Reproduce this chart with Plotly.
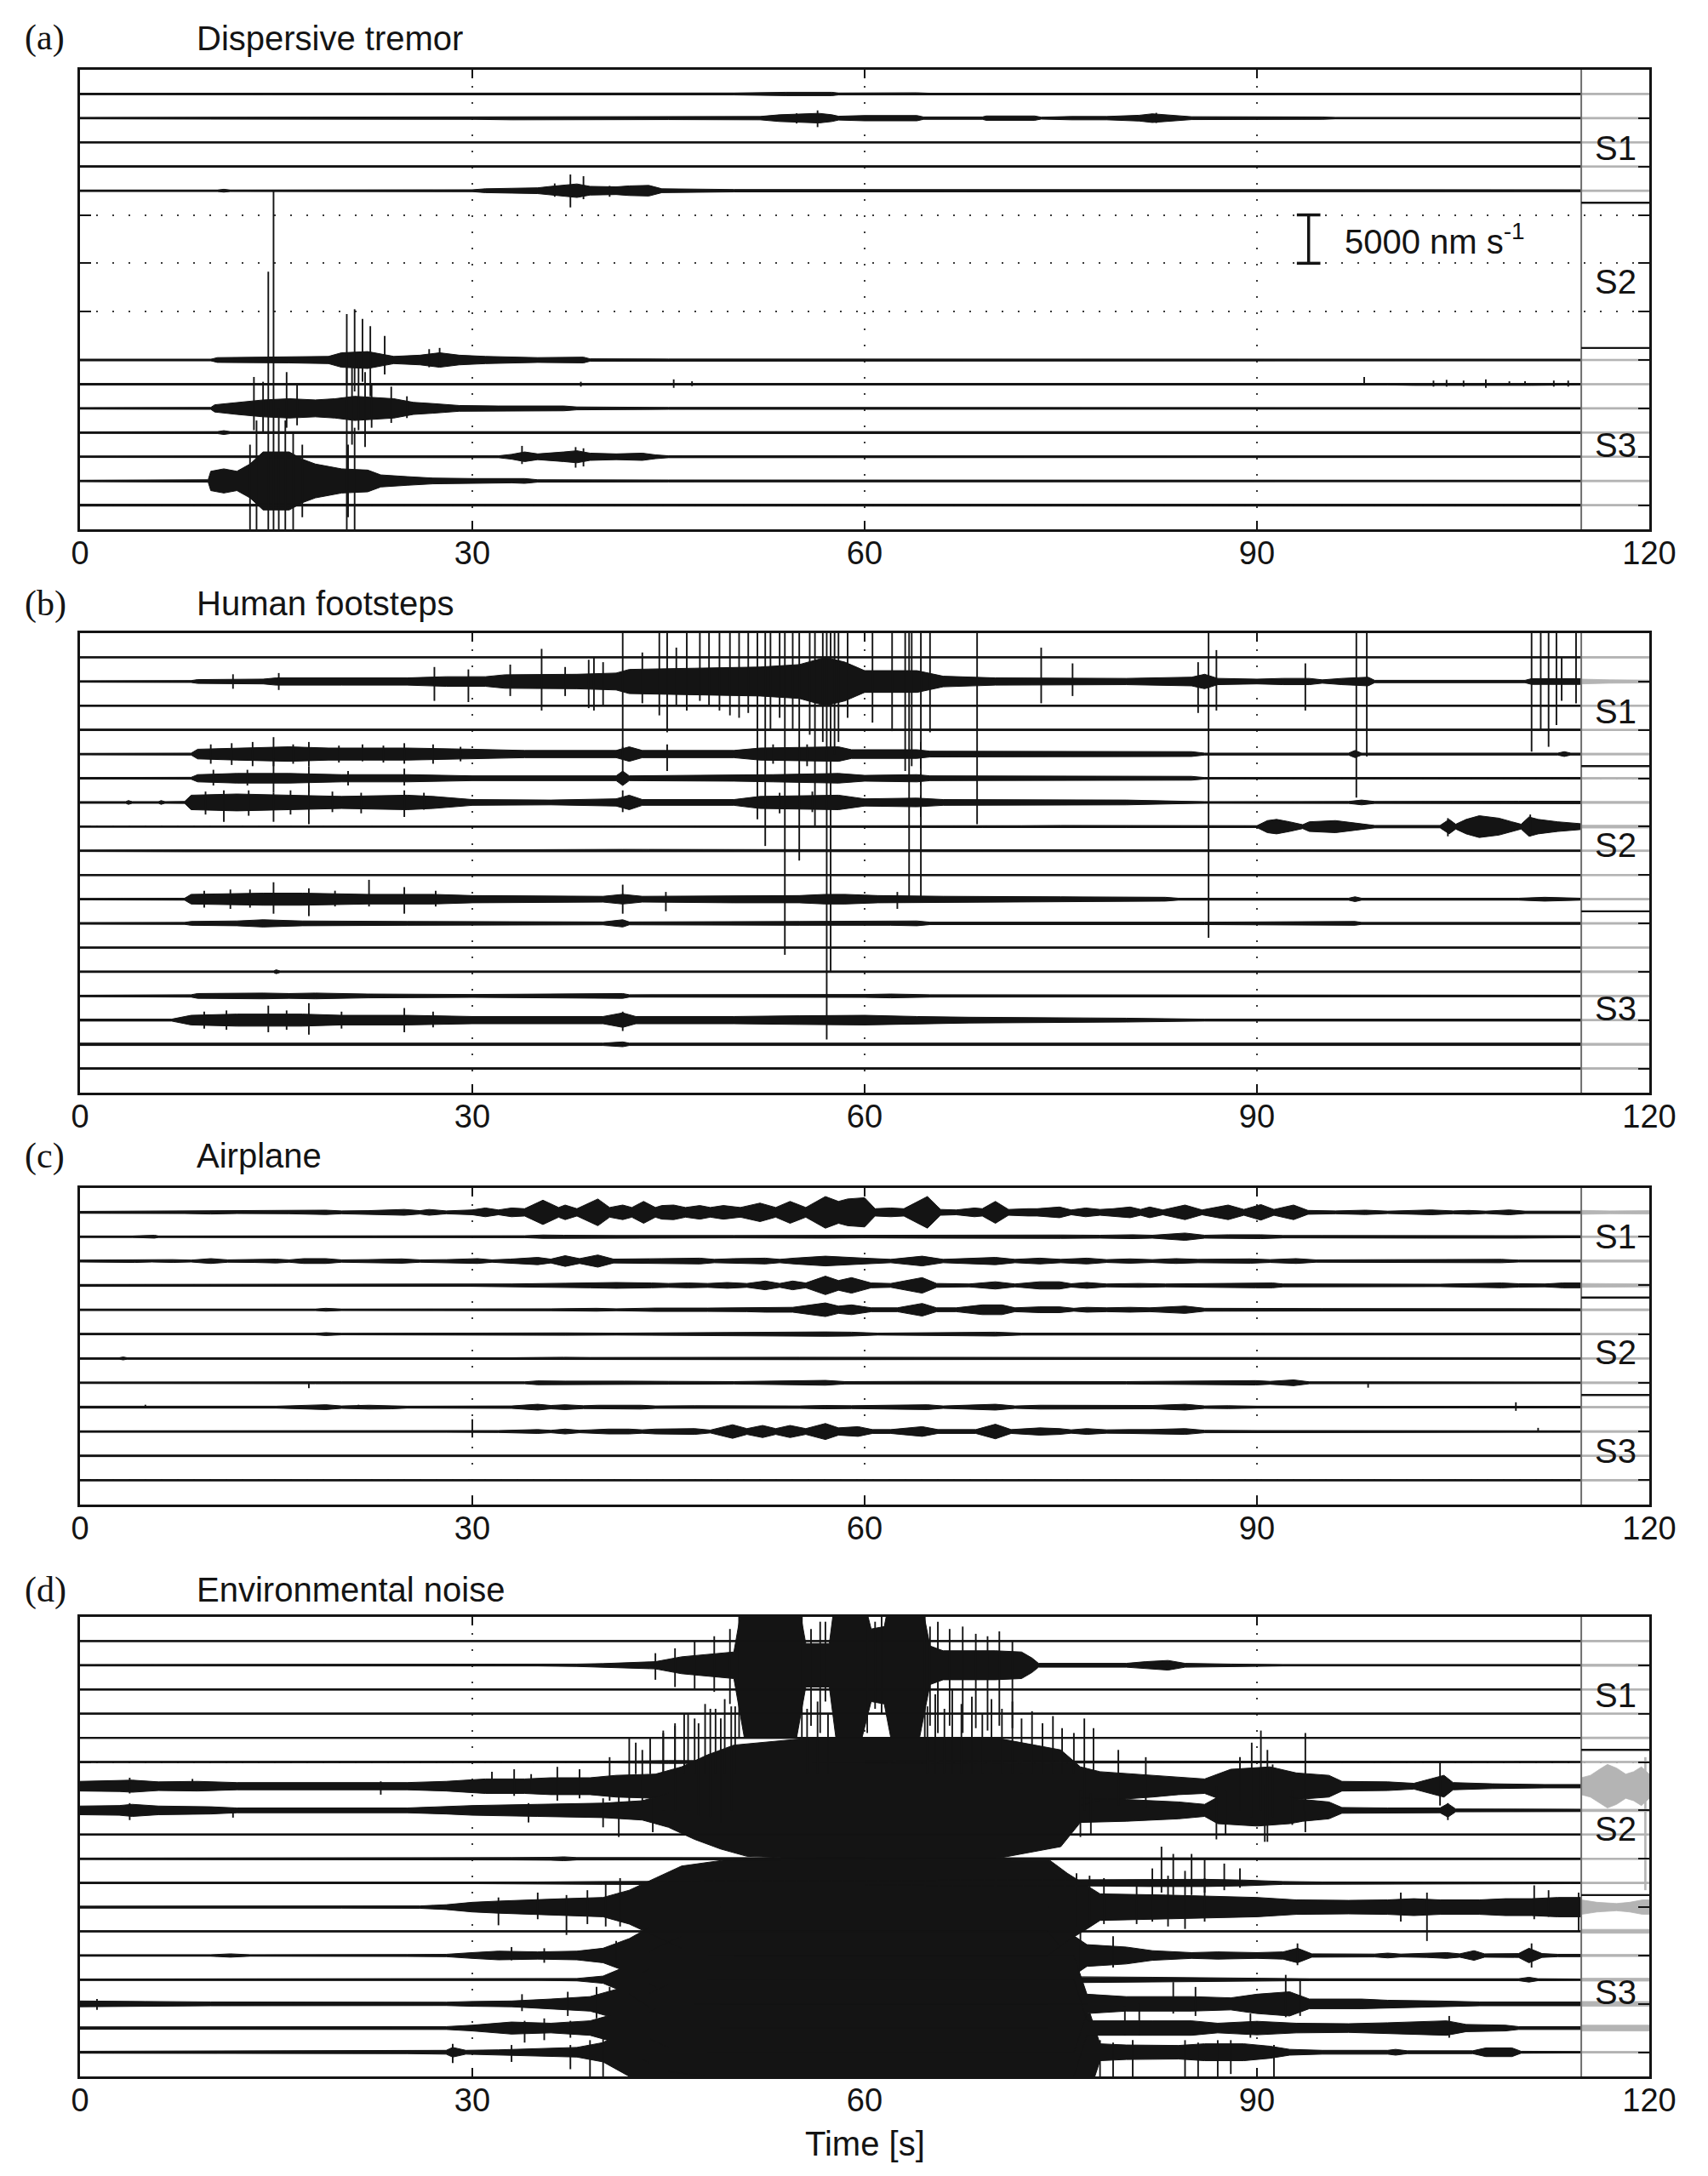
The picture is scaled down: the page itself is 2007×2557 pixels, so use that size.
import plotly.graph_objects as go

# ---------------- data ----------------
TIME_TICKS = [0, 30, 60, 90, 120]
T_END = 114.8          # end of the black traces (grey continuation afterwards)
T_MAX = 120
PANEL_LETTERS = ["(a)", "(b)", "(c)", "(d)"]
PANEL_TITLES = ["Dispersive tremor", "Human footsteps", "Airplane", "Environmental noise"]
N_TRACES = [18, 18, 12, 18]
STATION_BOUNDS = [[5.5, 11.5], [5.5, 11.5], [4.5, 8.5], [5.5, 11.5]]
STATION_LABELS = ["S1", "S2", "S3"]
STATION_LABEL_Y = [[3.25, 8.75, 15.5], [3.25, 8.75, 15.5], [2.0, 6.75, 10.8], [3.25, 8.75, 15.5]]
SCALE_BAR = [6, 8]          # channel slots spanned by the 5000 nm/s bar in (a)
SCALE_BAR_T = 93.95
SCALE_TEXT = "5000 nm s<sup>-1</sup>"

# envelopes: [t, half-amplitude (in channel spacings), ...]
ENV_A = [
    [0,0.03, 10,0.03, 11,0.05, 12,0.03, 50,0.04, 54,0.07, 57.5,0.07, 58,0.04, 60,0.05, 64,0.05, 65,0.03, 114.8,0.03],
    [0,0.03, 10,0.04, 30,0.05, 33,0.07, 45,0.06, 52,0.07, 53.5,0.14, 55,0.16, 56.5,0.2, 57.5,0.14, 58,0.08, 60,0.11, 64,0.11, 64.5,0.05, 69,0.05, 69.3,0.09, 73,0.09, 73.5,0.04, 75.8,0.07, 78.5,0.07, 79,0.08, 81,0.12, 82,0.18, 84,0.1, 85,0.06, 95,0.05, 96,0.03, 114.8,0.03],
    [0,0.02, 114.8,0.02],
    [0,0.03, 114.8,0.03],
    [0,0.03, 10.5,0.03, 11,0.06, 11.5,0.03, 30,0.04, 31,0.08, 33,0.1, 35,0.12, 36,0.18, 37,0.22, 38,0.28, 39,0.18, 41,0.16, 42,0.2, 43.5,0.22, 44.5,0.08, 50,0.05, 114.8,0.04],
    None, None, None, None, None, None,
    [0,0.03, 10,0.03, 10.5,0.1, 13,0.12, 16,0.12, 19,0.15, 20,0.3, 22,0.35, 24,0.15, 26,0.2, 27.5,0.3, 29,0.2, 31,0.15, 35,0.1, 38.5,0.12, 39,0.05, 45,0.04, 114.8,0.03],
    [0,0.03, 100,0.03, 102,0.05, 111,0.05, 114.8,0.03],
    [0,0.03, 10,0.04, 10.3,0.15, 12,0.25, 14,0.35, 16,0.4, 18,0.35, 19.5,0.4, 21,0.5, 24,0.4, 25.5,0.25, 27,0.2, 29,0.12, 32,0.1, 34,0.1, 37,0.1, 38,0.06, 45,0.04, 114.8,0.03],
    [0,0.03, 10.5,0.04, 11,0.08, 11.5,0.04, 114.8,0.04],
    [0,0.03, 32,0.04, 33,0.1, 34,0.2, 35,0.12, 36,0.15, 37,0.2, 38,0.25, 39,0.15, 41,0.12, 43,0.15, 44,0.08, 45,0.04, 114.8,0.03],
    [0,0.03, 9.8,0.05, 10,0.4, 11,0.5, 12,0.4, 13,0.7, 14,1.2, 16,1.2, 17,0.9, 18,0.7, 19,0.6, 20,0.5, 22,0.45, 23,0.25, 25,0.18, 27,0.12, 30,0.1, 33,0.08, 34,0.1, 35,0.05, 45,0.04, 114.8,0.03],
    [0,0.04, 114.8,0.04],
]
SPK_A = {
    2: [[56.4,0.32,0.37],[54.8,0.2,0.22],[82.3,0.22,0.2]],
    5: [[37.5,0.67,0.69],[38.5,0.6,0.35],[36.3,0.3,0.25],[40.5,0.2,0.25]],
    12: [[20.4,1.9,1.0],[21.0,2.1,1.3],[21.6,1.7,0.9],[22.2,1.4,1.5],[23.3,1.0,0.6],[26.7,0.45,0.3],[27.5,0.5,0.25]],
    13: [[38.3,0.1,0.1],[45.4,0.2,0.15],[46.8,0.12,0.08],[98.2,0.3,0.05],[103.5,0.15,0.1],[104.5,0.18,0.1],[105.8,0.15,0.1],[107.5,0.2,0.15],[109.3,0.12,0.05],[110.5,0.12,0.05],[112.7,0.15,0.1],[113.8,0.15,0.1]],
    14: [[13.3,1.3,0.9],[14.0,1.1,1.0],[15.8,1.5,0.8],[16.6,1.0,0.7],[20.4,2.2,5.0],[20.8,1.7,1.5],[21.3,2.0,0.9],[21.8,1.5,1.6],[22.3,1.0,0.8],[23.8,0.9,0.6],[25.0,0.5,0.4]],
    16: [[33.8,0.45,0.3],[37.9,0.4,0.45],[38.5,0.35,0.4]],
    17: [[13.0,1.5,2.0],[13.5,2.5,3.0],[14.4,8.65,3.0],[14.8,12.0,3.0],[15.2,3.0,3.0],[15.7,2.5,2.5],[16.3,2.0,2.2],[17.0,1.5,1.5],[20.5,1.5,1.5],[21.0,2.2,2.0]],
}
GREY_A = [0.02]*5 + [None]*6 + [0.02]*7

ENV_B = [
    [0,0.02, 114.8,0.02],
    [0,0.03, 8.5,0.04, 9,0.08, 14,0.1, 15,0.15, 20,0.15, 25,0.15, 28,0.2, 31,0.2, 32.5,0.28, 38,0.3, 41,0.35, 42,0.5, 47,0.55, 52,0.6, 55,0.7, 57,1.0, 58.5,0.8, 60,0.45, 64,0.45, 66,0.22, 70,0.15, 80,0.13, 85,0.18, 86,0.3, 87,0.13, 90,0.1, 92,0.13, 94,0.13, 95,0.07, 96.5,0.13, 98.5,0.18, 99,0.05, 110.5,0.05, 111,0.12, 114.8,0.12],
    [0,0.02, 114.8,0.02],
    [0,0.03, 114.8,0.03],
    [0,0.03, 8.5,0.04, 9,0.2, 12,0.25, 16,0.3, 19,0.25, 25,0.25, 30,0.2, 34,0.15, 41,0.15, 42,0.3, 43,0.15, 50,0.15, 52,0.25, 58,0.3, 59,0.18, 64,0.18, 65,0.12, 75,0.12, 85,0.1, 86,0.04, 97,0.04, 97.5,0.15, 98,0.04, 113,0.04, 113.5,0.1, 114,0.04, 114.8,0.04],
    [0,0.03, 8.5,0.04, 9,0.15, 12,0.2, 16,0.2, 20,0.15, 25,0.15, 30,0.1, 41,0.1, 41.5,0.3, 42,0.1, 50,0.12, 53,0.15, 58,0.2, 60,0.12, 64,0.15, 65,0.1, 85,0.08, 86,0.03, 114.8,0.03],
    [0,0.03, 3.5,0.03, 3.7,0.08, 4,0.03, 6,0.03, 6.2,0.08, 6.5,0.03, 8,0.04, 8.5,0.3, 12,0.35, 16,0.3, 20,0.25, 25,0.3, 27,0.25, 30,0.12, 36,0.1, 41,0.15, 42,0.3, 43,0.12, 50,0.12, 52,0.25, 58,0.3, 60,0.15, 64,0.18, 66,0.12, 80,0.1, 86,0.03, 97,0.04, 98,0.1, 99,0.04, 110,0.05, 114.8,0.05],
    [0,0.02, 40,0.02, 41.5,0.04, 60,0.03, 69,0.04, 72,0.04, 75,0.05, 80,0.04, 90,0.04, 90.8,0.25, 91.5,0.3, 92.5,0.2, 93.5,0.08, 94,0.2, 96,0.25, 97.5,0.15, 99,0.05, 104,0.05, 104.7,0.3, 105.2,0.1, 106,0.3, 107,0.45, 108.5,0.35, 109.5,0.2, 110.2,0.1, 110.8,0.4, 111.5,0.3, 113,0.2, 114.8,0.12],
    [0,0.03, 8,0.04, 30,0.04, 41.5,0.06, 55,0.05, 114.8,0.03],
    [0,0.02, 114.8,0.02],
    [0,0.03, 8,0.04, 8.5,0.2, 14,0.25, 17,0.25, 22,0.2, 27,0.2, 30,0.15, 40,0.12, 41.5,0.2, 43,0.12, 50,0.15, 55,0.15, 57,0.2, 58.5,0.2, 61,0.15, 66,0.12, 75,0.1, 83,0.08, 84,0.04, 97,0.04, 97.5,0.1, 98,0.04, 110,0.04, 112,0.08, 114.8,0.04],
    [0,0.03, 8,0.04, 8.5,0.08, 12,0.1, 14,0.15, 17,0.1, 25,0.08, 40,0.06, 41.5,0.15, 42,0.06, 55,0.08, 62,0.08, 64,0.1, 65,0.05, 80,0.05, 86,0.05, 97.5,0.08, 98,0.04, 114.8,0.04],
    [0,0.02, 114.8,0.02],
    [0,0.03, 14.8,0.03, 15,0.08, 15.3,0.03, 114.8,0.03],
    [0,0.03, 8.5,0.05, 9,0.1, 14,0.12, 16,0.1, 18,0.12, 22,0.08, 30,0.06, 41.5,0.1, 42,0.05, 60,0.06, 62,0.08, 65,0.05, 114.8,0.03],
    [0,0.04, 7,0.04, 8.5,0.2, 12,0.25, 17,0.25, 20,0.2, 25,0.2, 30,0.15, 40,0.15, 41.5,0.3, 42.5,0.15, 50,0.15, 55,0.18, 60,0.2, 64,0.15, 68,0.12, 80,0.08, 86,0.04, 114.8,0.04],
    [0,0.05, 40,0.05, 41.5,0.1, 42,0.05, 114.8,0.05],
    [0,0.03, 114.8,0.03],
]
SPK_B = {
    2: [[11.7,0.3,0.3],[15.2,0.35,0.35],[27.1,0.6,0.8],[29.7,0.5,0.85],[32.9,0.7,0.6],[35.3,1.35,1.2],[37.1,0.6,0.6],[38.9,0.9,1.1],[39.3,1.0,1.2],[40.0,0.8,1.0],[41.5,2.0,3.2],[43.0,1.2,0.9],[44.3,2.0,1.4],[44.9,2.0,2.1],[45.6,1.4,1.0],[46.4,2.0,1.2],[47.4,2.0,0.8],[48.1,2.0,1.0],[48.9,2.0,1.2],[49.7,2.0,1.4],[50.4,2.0,1.5],[51.1,2.0,1.3],[51.8,2.0,5.7],[52.4,2.0,6.8],[52.8,2.0,2.0],[53.5,2.0,1.5],[53.9,2.0,11.3],[54.5,2.0,2.0],[55.0,2.0,7.4],[55.8,2.0,2.2],[56.2,2.0,6.0],[56.8,2.0,2.5],[57.1,2.0,14.8],[57.4,2.0,12.0],[57.7,2.0,3.0],[58.0,2.0,2.5],[58.7,2.0,1.5],[60.6,2.0,1.7],[62.1,2.0,2.05],[63.1,2.0,3.7],[63.4,2.0,8.9],[63.6,2.0,3.5],[64.3,2.0,9.0],[65.0,2.0,2.1],[68.6,2.0,5.9],[73.5,1.4,0.9],[75.9,0.75,0.6],[85.5,0.8,1.3],[86.3,2.0,10.6],[86.9,1.3,1.2],[93.7,0.75,1.2],[97.6,2.0,4.8],[98.4,2.0,3.1],[111.0,2.0,2.9],[111.7,2.0,2.0],[112.3,2.0,2.7],[112.9,2.0,1.8],[113.3,1.0,0.8],[114.4,2.0,0.9]],
    5: [[10.0,0.4,0.4],[11.6,0.45,0.45],[13.2,0.5,0.5],[14.8,0.7,0.5],[16.3,0.4,0.4],[17.5,0.5,0.5],[19.8,0.35,0.35],[21.6,0.4,0.3],[23.2,0.35,0.35],[24.8,0.45,0.4],[27.0,0.4,0.4],[29.1,0.3,0.3],[41.5,0.3,1.0],[44.9,0.4,0.7],[53.0,0.4,0.4],[55.6,0.4,0.5],[64.3,0.5,0.6]],
    6: [[10.2,0.35,0.3],[12.8,0.35,0.3],[14.8,0.8,0.6],[17.5,0.5,0.6],[20.5,0.3,0.3],[24.8,0.4,0.3],[64.3,0.2,0.3]],
    7: [[9.6,0.45,0.5],[11.0,0.5,0.8],[12.9,0.5,0.55],[14.8,0.4,0.8],[16.1,0.5,0.5],[17.5,0.7,0.9],[19.3,0.45,0.4],[21.5,0.4,0.45],[24.8,0.5,0.6],[26.3,0.4,0.3],[41.5,0.5,0.4],[53.5,0.4,0.45],[56.0,0.45,0.4],[64.3,0.3,0.6]],
    8: [[104.6,0.35,0.4],[110.9,0.5,0.4]],
    11: [[9.5,0.35,0.35],[11.5,0.4,0.4],[13.0,0.4,0.35],[14.8,0.7,0.6],[17.5,0.45,0.7],[19.5,0.35,0.3],[22.1,0.8,0.3],[24.8,0.5,0.6],[27.2,0.35,0.3],[41.5,0.6,0.6],[44.8,0.3,0.5],[62.5,0.3,0.4]],
    16: [[9.5,0.35,0.35],[11.2,0.4,0.4],[14.4,0.6,0.5],[15.8,0.4,0.4],[17.5,0.7,0.6],[20.0,0.35,0.35],[24.8,0.5,0.5],[27.0,0.35,0.3],[41.5,0.35,0.45]],
}
GREY_B = [0.02, [114.8,0.1, 117,0.07, 120,0.06], 0.02, 0.02, 0.03, 0.03, 0.04, 0.06,
          0.03, 0.02, 0.03, 0.03, 0.02, 0.03, 0.03, 0.03, 0.04, 0.03]

ENV_C = [
    [0,0.04, 4,0.05, 8,0.05, 10,0.07, 12,0.05, 16,0.06, 18.8,0.09, 20,0.06, 22,0.07, 24.8,0.12, 26,0.07, 26.7,0.12, 28,0.06, 30,0.1, 31,0.18, 32,0.1, 33,0.18, 34,0.15, 35.4,0.5, 36.6,0.2, 37.1,0.3, 38,0.15, 39.6,0.55, 40.5,0.2, 41.5,0.3, 42.2,0.2, 43.1,0.45, 44,0.2, 44.5,0.28, 45.4,0.3, 46.3,0.2, 47.4,0.28, 48.2,0.2, 49.2,0.28, 50.5,0.2, 52,0.38, 53.2,0.2, 54.3,0.45, 55.5,0.2, 57,0.65, 58,0.45, 58.7,0.55, 60,0.6, 60.8,0.15, 62,0.18, 63,0.15, 64.8,0.65, 65.8,0.12, 67,0.1, 68.4,0.18, 69,0.15, 70,0.45, 71,0.12, 72.5,0.15, 73.2,0.15, 74.9,0.22, 75.8,0.1, 76.9,0.18, 78,0.12, 79,0.15, 80.3,0.22, 81.1,0.12, 81.8,0.22, 82.8,0.1, 84.5,0.3, 85.8,0.1, 87.8,0.3, 89,0.12, 90.3,0.32, 91.3,0.12, 92.8,0.3, 93.9,0.08, 96,0.06, 98.3,0.09, 100,0.05, 103.3,0.1, 105,0.06, 106.2,0.08, 107.5,0.05, 109.3,0.1, 110.5,0.05, 114.8,0.05],
    [0,0.03, 4,0.03, 5.7,0.06, 6,0.03, 34,0.04, 35.4,0.07, 37,0.06, 39.7,0.07, 41,0.05, 50,0.05, 57,0.06, 60,0.05, 64.8,0.06, 69.2,0.06, 72,0.06, 75,0.07, 78,0.06, 80.5,0.08, 82,0.06, 84.5,0.15, 86,0.06, 87.8,0.08, 90.3,0.08, 92,0.05, 95,0.05, 98,0.05, 103,0.06, 110,0.06, 114.8,0.04],
    [0,0.04, 4.2,0.06, 5.5,0.04, 7.1,0.06, 8.5,0.04, 10,0.1, 11.3,0.05, 13.4,0.06, 15,0.08, 16,0.05, 17.1,0.1, 18.8,0.1, 20,0.05, 22,0.06, 24.6,0.09, 26,0.05, 28,0.06, 30.4,0.1, 31.5,0.05, 32.9,0.08, 35,0.15, 36,0.08, 37.1,0.22, 38.2,0.1, 39.6,0.25, 40.8,0.08, 42.5,0.1, 44.5,0.1, 47.4,0.12, 48.5,0.07, 50,0.1, 52.4,0.12, 53.5,0.07, 54.6,0.12, 57,0.2, 58.5,0.15, 60,0.12, 62,0.07, 64.4,0.2, 66,0.07, 70,0.15, 71.5,0.07, 73.4,0.12, 75,0.07, 77,0.12, 78.5,0.06, 80.3,0.09, 82,0.06, 83.8,0.1, 85.5,0.07, 89.5,0.09, 91,0.06, 93,0.1, 94.5,0.05, 100,0.05, 108.7,0.07, 110,0.04, 114.8,0.04],
    [0,0.04, 30,0.04, 33,0.06, 37.1,0.09, 39,0.1, 41,0.12, 43.7,0.1, 45,0.08, 46.5,0.1, 48,0.08, 49.5,0.12, 51,0.08, 52.4,0.18, 53.5,0.08, 54.5,0.18, 55.5,0.1, 57,0.38, 58,0.2, 59,0.32, 60.5,0.1, 62,0.08, 64.4,0.32, 65.5,0.08, 68,0.06, 70,0.15, 71.5,0.06, 73.4,0.15, 74.9,0.15, 75.8,0.07, 77,0.12, 78.5,0.06, 81,0.08, 83,0.06, 89.9,0.1, 91.2,0.1, 92,0.06, 104,0.05, 108.7,0.1, 110,0.07, 112,0.06, 113.4,0.1, 114.8,0.1],
    [0,0.03, 18,0.03, 18.8,0.06, 20,0.03, 36,0.04, 39.5,0.06, 41,0.04, 44,0.07, 48,0.07, 51,0.08, 52.4,0.1, 54.5,0.1, 57,0.28, 58,0.15, 59,0.2, 60.5,0.08, 62.5,0.08, 64.4,0.26, 65.5,0.08, 67,0.08, 69,0.2, 70.5,0.2, 71.5,0.08, 73.4,0.12, 74.9,0.12, 76,0.06, 77,0.1, 78.5,0.08, 80.3,0.1, 81.8,0.08, 84.5,0.15, 86,0.06, 95,0.05, 114.8,0.04],
    [0,0.03, 18,0.03, 18.8,0.06, 20,0.03, 37.1,0.05, 39.6,0.05, 41,0.04, 57,0.09, 59,0.08, 61,0.04, 64.4,0.06, 70,0.08, 72,0.04, 114.8,0.03],
    [0,0.03, 3,0.03, 3.3,0.06, 3.6,0.03, 33,0.03, 35,0.05, 37,0.05, 39,0.04, 45,0.05, 55,0.05, 114.8,0.03],
    [0,0.03, 18,0.04, 18.8,0.06, 20,0.04, 34,0.04, 35,0.08, 37.1,0.07, 39.6,0.08, 41.6,0.07, 45,0.06, 50,0.05, 57,0.1, 58.5,0.05, 64.8,0.06, 70,0.05, 80,0.05, 89.9,0.09, 91,0.06, 92.8,0.12, 94,0.04, 114.8,0.03],
    [0,0.04, 15,0.04, 18.8,0.1, 20,0.05, 22.1,0.08, 23.8,0.07, 25,0.04, 33,0.05, 35,0.12, 36,0.07, 37.1,0.1, 38.5,0.06, 39.6,0.08, 42.9,0.08, 44,0.05, 47,0.06, 50,0.05, 55,0.05, 57,0.07, 59,0.06, 64.8,0.1, 66,0.05, 70,0.12, 71.5,0.05, 73.4,0.08, 75,0.08, 77,0.08, 80.3,0.07, 82,0.07, 84.5,0.12, 86,0.05, 87.8,0.06, 90,0.04, 114.8,0.03],
    [0,0.03, 28,0.03, 32,0.04, 35,0.08, 36,0.05, 37.1,0.1, 38.2,0.05, 39.1,0.07, 40.4,0.1, 42,0.1, 43,0.07, 44,0.1, 45.4,0.12, 47,0.12, 48.2,0.06, 49.9,0.28, 51,0.12, 52.2,0.25, 53.2,0.12, 54.3,0.25, 55.5,0.12, 57,0.33, 58,0.15, 59.5,0.2, 60.6,0.08, 62,0.08, 64.4,0.2, 65.6,0.08, 68.5,0.08, 70,0.3, 71.2,0.08, 73.4,0.15, 74.9,0.12, 75.8,0.07, 77,0.12, 78.5,0.07, 80.3,0.08, 81.8,0.08, 84.5,0.12, 86,0.05, 90,0.04, 114.8,0.03],
    [0,0.03, 114.8,0.03],
    [0,0.025, 114.8,0.025],
]
SPK_C = {
    8: [[17.5,0.0,0.22],[98.5,0.0,0.2]],
    9: [[5.0,0.1,0.05],[21.3,0.1,0.0],[109.8,0.2,0.15]],
    10: [[30.0,0.5,0.25],[111.5,0.15,0.0]],
}
GREY_C = [[114.8,0.08, 117,0.06, 120,0.07], 0.03, 0.04, [114.8,0.08, 120,0.06],
          0.03, 0.03, 0.025, 0.03, 0.03, 0.03, 0.025, 0.025]

ENV_D = [
    [0,0.02, 114.8,0.02],
    [0,0.03, 35,0.03, 38,0.05, 40,0.07, 42,0.12, 44,0.15, 46,0.35, 48,0.45, 50,0.55, 50.8,3.0, 54.8,3.0, 55.5,0.9, 57.3,0.9, 57.8,3.0, 59.8,3.0, 60.5,1.5, 61.5,1.6, 62,3.0, 64.2,3.0, 65,0.8, 66,0.6, 70,0.6, 72,0.55, 72.8,0.3, 73.3,0.08, 80,0.08, 81.5,0.15, 83.2,0.2, 84.5,0.08, 88,0.05, 92,0.03, 114.8,0.03],
    [0,0.02, 114.8,0.02],
    [0,0.02, 114.8,0.02],
    [0,0.02, 114.8,0.02],
    [0,0.02, 40,0.03, 45,0.06, 114.8,0.02],
    [0,0.2, 3,0.22, 4,0.25, 6,0.18, 9,0.2, 12,0.15, 20,0.15, 25,0.15, 28,0.2, 31,0.3, 34,0.3, 36,0.35, 39,0.35, 41,0.45, 44,0.5, 46,0.8, 48,1.3, 50,1.7, 56,2.0, 70,2.0, 75,1.5, 76.5,0.8, 78,0.6, 82,0.45, 84,0.35, 86,0.3, 88,0.7, 91,0.8, 93,0.55, 95.5,0.45, 96.5,0.2, 100,0.18, 102,0.12, 103.6,0.35, 104.3,0.45, 105,0.15, 108,0.1, 112,0.07, 114.8,0.07],
    [0,0.18, 3,0.2, 4,0.25, 6,0.18, 10,0.15, 12,0.1, 25,0.1, 28,0.15, 30,0.2, 35,0.25, 40,0.3, 43,0.4, 45,0.7, 47,1.2, 49,1.6, 51,1.9, 56,2.0, 70,2.0, 75,1.5, 76.5,0.5, 80,0.45, 84,0.35, 86,0.25, 87,0.55, 90,0.65, 92.5,0.55, 93.5,0.45, 95.5,0.35, 96.5,0.12, 100,0.1, 104,0.1, 104.6,0.28, 105.2,0.06, 114.8,0.05],
    [0,0.02, 114.8,0.02],
    [0,0.03, 25,0.03, 28,0.05, 33,0.05, 36,0.06, 37,0.08, 38,0.05, 114.8,0.03],
    [0,0.03, 30,0.03, 35,0.04, 40,0.06, 76,0.12, 82,0.15, 86,0.15, 89,0.12, 92,0.06, 95,0.04, 114.8,0.03],
    [0,0.04, 20,0.04, 26,0.05, 28,0.1, 30,0.2, 32,0.25, 34,0.3, 37,0.35, 40,0.4, 42,0.7, 44,1.2, 46,1.7, 50,2.0, 74,2.0, 75.5,1.4, 77,0.9, 78,0.55, 83,0.5, 86,0.45, 90,0.4, 93,0.3, 97,0.28, 100,0.3, 102,0.35, 104,0.3, 107,0.3, 109,0.35, 111,0.35, 113,0.4, 114.8,0.4],
    [0,0.02, 114.8,0.02],
    [0,0.03, 10,0.03, 11.5,0.07, 13,0.03, 25,0.04, 28,0.05, 30,0.12, 32,0.18, 35,0.15, 38,0.18, 40,0.3, 42,0.7, 44,1.3, 46,1.8, 49,2.0, 74,2.0, 75.5,1.0, 77,0.45, 80,0.35, 82,0.2, 85,0.12, 87,0.15, 90,0.12, 92,0.15, 93.1,0.3, 94.2,0.07, 99,0.06, 100,0.1, 101,0.06, 103,0.08, 104.5,0.12, 105.5,0.07, 106.6,0.2, 107.4,0.07, 110,0.08, 110.8,0.3, 111.8,0.08, 113,0.05, 114.8,0.05],
    [0,0.03, 35,0.03, 38,0.05, 40,0.15, 42,0.6, 44,1.3, 46,1.8, 49,2.0, 74,2.0, 75.5,1.0, 76.5,0.12, 82,0.1, 88,0.06, 94,0.04, 110,0.04, 110.8,0.1, 111.5,0.04, 114.8,0.03],
    [0,0.12, 4,0.12, 5,0.1, 10,0.08, 28,0.07, 30,0.1, 33,0.12, 36,0.2, 39,0.3, 41,0.6, 43,1.3, 45,1.8, 48,2.0, 76,2.0, 77,0.4, 80,0.3, 85,0.3, 88,0.25, 90,0.4, 92.5,0.5, 94,0.2, 98,0.2, 100,0.15, 104,0.12, 107,0.08, 114.8,0.08],
    [0,0.05, 28,0.06, 30,0.12, 33,0.25, 36,0.2, 39,0.3, 41,0.6, 43,1.3, 45,1.8, 48,2.0, 76,2.0, 77,0.3, 82,0.3, 85,0.3, 87,0.2, 90,0.28, 93,0.2, 97,0.18, 100,0.22, 104.5,0.3, 106,0.15, 109,0.12, 110,0.06, 114.8,0.06],
    [0,0.04, 15,0.05, 25,0.06, 28,0.08, 28.5,0.2, 29.5,0.08, 32,0.1, 35,0.15, 38,0.2, 40,0.4, 42,1.0, 44,1.8, 47,2.0, 77,2.0, 78,0.35, 80,0.3, 84,0.28, 86,0.35, 89,0.35, 91,0.25, 92.5,0.12, 95,0.08, 100,0.08, 100.6,0.12, 101.5,0.06, 106.5,0.06, 107.5,0.18, 109.5,0.18, 110.2,0.04, 114.8,0.03],
]
SPK_D = {
    2: [[50.4,2.0,3.0],[55.2,2.0,3.0],[55.9,1.5,2.5],[56.6,1.8,2.8],[57.0,1.8,1.5],[60.2,2.0,2.8],[60.8,1.8,1.8],[61.3,2.0,2.0],[64.6,2.0,3.0],
        [65.0,1.6,2.5],[65.6,1.8,2.8],[66.5,1.5,2.5],[67.5,1.6,2.8],[68.5,1.3,2.6],[69.4,1.2,2.7],[70.3,1.4,2.5],[71.3,1.0,2.6],
        [44.0,0.5,0.6],[45.5,0.7,0.9],[47.0,1.0,1.0],[48.5,1.2,1.1],[49.7,1.5,1.6]],
    6: [[42.5,0.8,0.5],[43.6,1.0,0.5],[44.6,1.3,0.5],[45.5,1.6,0.5],[46.2,2.0,0.5],[47.0,1.8,0.5],[47.8,2.4,0.5],[48.6,2.2,0.5],[49.3,2.6,0.5],[50.1,2.3,0.5],
        [55.6,2.2,0.5],[56.4,2.5,0.5],[57.2,2.0,0.5],[64.8,2.3,0.5],[65.4,2.8,0.5],[66.1,2.2,0.5],[66.7,3.0,0.5],[67.4,2.4,0.5],[68.2,2.7,0.5],[69.0,2.0,0.5],
        [69.7,2.6,0.5],[70.5,2.2,0.5],[71.3,2.5,0.5],[72.0,1.8,0.5],[72.8,2.1,0.5],[73.6,1.6,0.5],[74.4,1.9,0.5],[75.1,1.4,0.5],[76.0,1.2,0.5]],
    7: [[3.8,0.35,0.3],[8.6,0.3,0.2],[23.0,0.2,0.35],[31.5,0.6,0.3],[33.2,0.7,0.4],[34.5,0.5,0.2],[36.5,0.8,0.6],[38.2,0.7,0.5],[40.5,1.2,0.6],[42.0,2.0,0.8],[43.0,1.5,0.8],[44.6,2.2,1.0],[45.5,2.5,1.0],[46.5,3.0,1.0],[47.3,2.6,1.2],[48.2,3.2,1.3],[49.0,2.8,1.5],[49.8,3.3,1.0],
        [76.8,2.8,1.0],[77.5,2.4,1.0],[79.4,1.5,0.8],[81.5,1.2,0.9],[88.7,1.2,1.0],[89.6,1.8,1.3],[90.3,2.3,1.0],[90.8,1.5,2.3],[91.2,0.9,1.3],[93.7,2.2,1.0],[104.0,1.0,0.8]],
    8: [[3.8,0.3,0.4],[11.7,0.1,0.3],[34.3,0.3,0.5],[40.0,0.5,0.7],[41.2,0.6,1.1],[43.8,0.6,0.9],[76.5,0.8,1.1],[77.3,0.7,1.0],[86.9,1.0,1.2],[87.6,0.8,1.0],[90.6,1.0,1.3],[92.7,0.8,0.6],[93.7,0.6,0.9],[104.6,0.3,0.4]],
    11: [[82.7,1.5,0.4],[83.6,1.2,0.5],[85.0,1.2,0.5],[86.0,1.0,0.4],[87.5,0.8,0.3],[88.7,0.6,0.2]],
    12: [[32.0,0.4,0.75],[35.0,0.6,0.5],[37.2,0.5,1.15],[38.8,0.7,0.7],[40.2,1.0,0.8],[41.3,1.2,0.8],[76.2,1.4,0.8],[77.2,1.3,0.8],[78.3,1.2,0.7],[80.8,1.0,0.7],[82.0,1.6,0.6],[83.2,1.3,0.8],[84.5,1.5,0.9],[86.0,1.2,0.6],[101.0,0.6,0.6],[103.0,0.6,1.4],[111.2,0.9,0.5],[112.3,0.7,0.4],[114.6,0.6,1.0]],
    14: [[33.0,0.35,0.2],[35.5,0.3,0.3],[41.0,0.6,0.4],[76.5,1.0,0.6],[79.0,0.8,0.5],[93.1,0.5,0.4],[111.0,0.5,0.5]],
    16: [[1.3,0.2,0.25],[33.8,0.4,0.3],[37.3,0.5,0.5],[39.5,0.7,0.6],[40.5,0.7,0.5],[83.6,0.9,0.4],[85.3,0.7,0.5],[92.2,1.2,0.55],[93.3,1.0,0.5]],
    17: [[34.0,0.3,0.6],[35.5,0.4,0.5],[37.5,0.3,0.4],[79.9,0.9,0.3],[81.0,1.0,0.3],[89.5,0.6,0.4],[104.7,0.5,0.4]],
    18: [[28.5,0.35,0.45],[33.0,0.3,0.4],[37.5,0.3,0.7],[39.0,0.5,1.0],[40.0,0.6,1.0],[78.0,0.5,1.0],[79.0,0.4,1.0],[80.5,0.5,1.0],[84.5,0.5,1.0],[85.5,0.4,1.0],[87.0,0.5,1.0],[88.0,0.5,0.9],[91.3,0.3,1.0]],
}
GREY_D = [0.02, 0.04, 0.02, 0.02, 0.02, 0.02,
          [114.8,0.35, 115.5,0.45, 116.2,0.7, 116.8,0.9, 117.5,0.75, 118.2,0.5, 118.8,0.6, 119.4,0.8, 120,0.5],
          0.05, 0.02, 0.02, 0.02,
          [114.8,0.3, 116,0.2, 117.5,0.15, 118.5,0.2, 119.5,0.3, 120,0.3],
          0.08, 0.04, 0.06, 0.1, 0.12, 0.03]
GREY_SPK_D = {7: [[119.7, 1.2, 4.3]]}

ENVS = [ENV_A, ENV_B, ENV_C, ENV_D]
SPKS = [SPK_A, SPK_B, SPK_C, SPK_D]
GREYS = [GREY_A, GREY_B, GREY_C, GREY_D]
GREY_SPKS = [{}, {}, {}, GREY_SPK_D]

# ---------------- layout geometry (pixels of the 2007x2557 page) ----------------
W, H = 2007, 2557
OFF = 8   # the page body offsets the figure by 8 px
X_LEFT, X_RIGHT = 94, 1938
PANEL_PX = [(82, 622), (744, 1284), (1396, 1768), (1900, 2440)]
TITLE_Y_PX = [45, 709, 1358, 1868]
FONT = "Liberation Sans, Arial, Helvetica, sans-serif"
SERIF = "Liberation Serif, Times New Roman, serif"
BLACK = "#141414"
GREY = "#b4b4b4"


def py(px):
    return 1 - (px - OFF) / H


def px_x(px):
    return (px - OFF) / W


fig = go.Figure()

for p in range(4):
    n = N_TRACES[p]
    xa = "x" if p == 0 else f"x{p+1}"
    ya = "y" if p == 0 else f"y{p+1}"
    env = ENVS[p]

    ex, ey = [], []
    bx, by = [], []
    for k, bp in enumerate(env, start=1):
        if bp is None:
            continue
        ts, am = bp[0::2], bp[1::2]
        ex += ts + ts[::-1] + [None]
        ey += [k - a for a in am] + [k + a for a in am[::-1]] + [None]
        bx += [0, T_END, None]
        by += [k, k, None]
    fig.add_trace(go.Scatter(x=bx, y=by, mode="lines", line=dict(color=BLACK, width=2.4),
                             hoverinfo="skip", showlegend=False, xaxis=xa, yaxis=ya))
    fig.add_trace(go.Scatter(x=ex, y=ey, mode="lines", fill="toself", fillcolor=BLACK,
                             line=dict(color=BLACK, width=1.0), hoverinfo="skip",
                             showlegend=False, xaxis=xa, yaxis=ya))
    sx, sy = [], []
    for k, lst in SPKS[p].items():
        for t, up, dn in lst:
            sx += [t, t, None]
            sy += [k - up, k + dn, None]
    if sx:
        fig.add_trace(go.Scatter(x=sx, y=sy, mode="lines", line=dict(color=BLACK, width=1.9),
                                 hoverinfo="skip", showlegend=False, xaxis=xa, yaxis=ya))

    gx, gy, glx, gly = [], [], [], []
    for k, g in enumerate(GREYS[p], start=1):
        if g is None:
            continue
        if isinstance(g, list):
            ts, am = g[0::2], g[1::2]
        else:
            ts, am = [T_END, T_MAX], [g, g]
        gx += ts + ts[::-1] + [None]
        gy += [k - a for a in am] + [k + a for a in am[::-1]] + [None]
        glx += [T_END, T_MAX, None]
        gly += [k, k, None]
    for k, lst in GREY_SPKS[p].items():
        for t, up, dn in lst:
            glx += [t, t, None]
            gly += [k - up, k + dn, None]
    fig.add_trace(go.Scatter(x=glx, y=gly, mode="lines", line=dict(color=GREY, width=2.6),
                             hoverinfo="skip", showlegend=False, xaxis=xa, yaxis=ya))
    fig.add_trace(go.Scatter(x=gx, y=gy, mode="lines", fill="toself", fillcolor=GREY,
                             line=dict(color=GREY, width=0.8), hoverinfo="skip",
                             showlegend=False, xaxis=xa, yaxis=ya))

    top, bot = PANEL_PX[p]
    dom_y = [py(bot), py(top)]
    axis_common = dict(showline=True, linecolor=BLACK, linewidth=2.5, mirror="ticks",
                       ticks="inside", tickcolor=BLACK, tickwidth=2, zeroline=False,
                       showgrid=True, gridcolor="#3a3a3a", gridwidth=1.8,
                       griddash="2px,17px", automargin=False)
    fig.update_layout(**{
        ("xaxis" if p == 0 else f"xaxis{p+1}"): dict(
            domain=[px_x(X_LEFT), px_x(X_RIGHT)], range=[0, T_MAX], anchor=ya,
            tickmode="array", tickvals=TIME_TICKS, ticklen=10,
            tickfont=dict(family=FONT, size=38, color=BLACK), ticklabelstandoff=-7,
            **axis_common),
        ("yaxis" if p == 0 else f"yaxis{p+1}"): dict(
            domain=dom_y, range=[n + 1, 0], anchor=xa,
            tickmode="array", tickvals=list(range(2, n + 1, 2)), ticklen=13,
            showticklabels=False, **axis_common),
    })

    fig.add_shape(type="line", xref=xa, yref=ya, x0=T_END, x1=T_END, y0=0, y1=n + 1,
                  line=dict(color="#6e6e6e", width=2))
    for b in STATION_BOUNDS[p]:
        fig.add_shape(type="line", xref=xa, yref=ya, x0=T_END, x1=T_MAX, y0=b, y1=b,
                      line=dict(color=BLACK, width=2.4))
    for lab, yy in zip(STATION_LABELS, STATION_LABEL_Y[p]):
        fig.add_annotation(x=(T_END + T_MAX) / 2, y=yy, xref=xa, yref=ya, text=lab,
                           showarrow=False, font=dict(family=FONT, size=40, color=BLACK),
                           xanchor="center", yanchor="middle")

    fig.add_annotation(x=px_x(27), y=py(TITLE_Y_PX[p]), xref="paper", yref="paper",
                       text=PANEL_LETTERS[p], showarrow=False, xanchor="left", yanchor="middle",
                       font=dict(family=SERIF, size=42, color=BLACK))
    fig.add_annotation(x=px_x(229), y=py(TITLE_Y_PX[p]), xref="paper", yref="paper",
                       text=PANEL_TITLES[p], showarrow=False, xanchor="left", yanchor="middle",
                       font=dict(family=FONT, size=40, color=BLACK))

# scale bar in (a)
y0s, y1s = SCALE_BAR
fig.add_shape(type="line", xref="x", yref="y", x0=SCALE_BAR_T, x1=SCALE_BAR_T, y0=y0s, y1=y1s,
              line=dict(color=BLACK, width=3.5))
for yy in SCALE_BAR:
    fig.add_shape(type="line", xref="x", yref="y", x0=SCALE_BAR_T - 0.9, x1=SCALE_BAR_T + 0.9,
                  y0=yy, y1=yy, line=dict(color=BLACK, width=3.5))
fig.add_annotation(x=96.6, y=(y0s + y1s) / 2, xref="x", yref="y", text=SCALE_TEXT,
                   showarrow=False, xanchor="left", yanchor="middle",
                   font=dict(family=FONT, size=40, color=BLACK))

fig.add_annotation(x=px_x((X_LEFT + X_RIGHT) / 2), y=py(2519), xref="paper", yref="paper",
                   text="Time [s]", showarrow=False, xanchor="center", yanchor="middle",
                   font=dict(family=FONT, size=40, color=BLACK))

fig.update_layout(width=W, height=H, margin=dict(l=0, r=0, t=0, b=0, autoexpand=False),
                  paper_bgcolor="white", plot_bgcolor="white", showlegend=False)

fig.write_html("out.html")
